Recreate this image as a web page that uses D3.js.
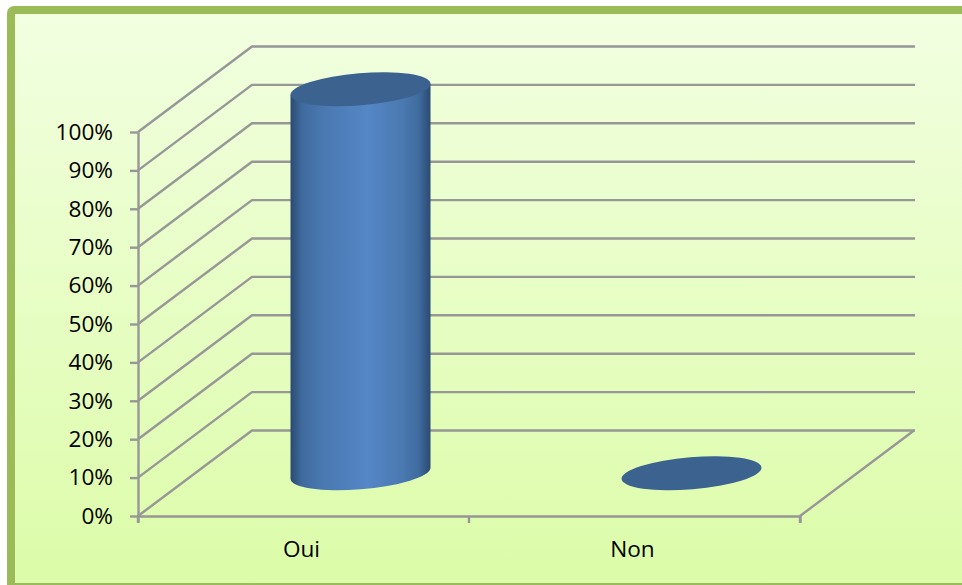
<!DOCTYPE html>
<html>
<head>
<meta charset="utf-8">
<script src="https://cdn.jsdelivr.net/npm/d3@7"></script>
<style>
body { margin: 0; background: #fff; }
text { font-family: "Open Sans", "Noto Sans", sans-serif; fill: #000; }
</style>
</head>
<body>
<div id="chart"></div>
<script>
var categories = ["Oui", "Non"];
var values = [100, 0];
var tickValues = [0, 10, 20, 30, 40, 50, 60, 70, 80, 90, 100];

var width = 962, height = 585;
var left = 138, right = 800, bottom = 516, top_ = 132;
// 3d offset of the back wall
var depthX = 114, depthY = -85.5;
var gridColor = "#979797";
var gridWidth = 2.4;

var svg = d3.select("#chart").append("svg")
    .attr("width", width)
    .attr("height", height)
    .style("display", "block");

var defs = svg.append("defs");

var bg = defs.append("linearGradient").attr("id", "bg")
    .attr("x1", 0).attr("y1", 0).attr("x2", 0).attr("y2", 1);
bg.append("stop").attr("offset", "0%").attr("stop-color", "#f2ffe1");
bg.append("stop").attr("offset", "100%").attr("stop-color", "#dcfca8");

var side = defs.append("linearGradient").attr("id", "side")
    .attr("x1", 0).attr("y1", 0).attr("x2", 1).attr("y2", 0);
side.append("stop").attr("offset", "0%").attr("stop-color", "#2b4a70");
side.append("stop").attr("offset", "8%").attr("stop-color", "#3f6a9e");
side.append("stop").attr("offset", "24%").attr("stop-color", "#4a79b1");
side.append("stop").attr("offset", "55%").attr("stop-color", "#5586c6");
side.append("stop").attr("offset", "80%").attr("stop-color", "#4a79b1");
side.append("stop").attr("offset", "92%").attr("stop-color", "#3f6a9e");
side.append("stop").attr("offset", "100%").attr("stop-color", "#2b4a6f");

// frame, runs off the right side of the picture
svg.append("rect")
    .attr("x", 11).attr("y", 10)
    .attr("width", 980).attr("height", 577)
    .attr("rx", 3)
    .attr("fill", "url(#bg)")
    .attr("stroke", "#9bbb59")
    .attr("stroke-width", 8);

var y = d3.scaleLinear().domain([0, 100]).range([bottom, top_]);
var x = d3.scaleBand().domain(categories).range([left, right]);

// gridlines, floor edge included
svg.append("g").selectAll("path")
    .data(tickValues)
    .enter()
    .append("path")
    .attr("d", function (d) {
        return "M" + left + "," + y(d) +
            "L" + (left + depthX) + "," + (y(d) + depthY) +
            "H" + (right + depthX + 1);
    })
    .attr("fill", "none")
    .attr("stroke", gridColor)
    .attr("stroke-width", gridWidth);

svg.append("line")
    .attr("x1", right).attr("y1", bottom)
    .attr("x2", right + depthX).attr("y2", bottom + depthY)
    .attr("stroke", gridColor)
    .attr("stroke-width", gridWidth);

var yAxis = svg.append("g")
    .attr("transform", "translate(" + left + ",0)")
    .call(d3.axisLeft(y)
        .tickValues(tickValues)
        .tickFormat(function (d) { return d + "%"; })
        .tickSize(8)
        .tickPadding(17)
        .tickSizeOuter(0));

var xAxis = svg.append("g")
    .attr("transform", "translate(0," + bottom + ")")
    .call(d3.axisBottom(x)
        .tickSize(0)
        .tickPadding(25)
        .tickSizeOuter(7));

// band edges get their own ticks
svg.append("g").selectAll("line")
    .data(categories.concat(["end"]))
    .enter()
    .append("line")
    .attr("x1", function (d, i) { return left + i * x.bandwidth(); })
    .attr("x2", function (d, i) { return left + i * x.bandwidth(); })
    .attr("y1", bottom)
    .attr("y2", bottom + 7)
    .attr("stroke", gridColor)
    .attr("stroke-width", gridWidth);

svg.selectAll(".domain, .tick line")
    .attr("stroke", gridColor)
    .attr("stroke-width", gridWidth);
svg.selectAll(".tick text")
    .attr("font-size", 22.6)
    .style("font-family", "'Open Sans'");
xAxis.selectAll(".tick text").attr("dx", -2);

// cylinders
var rx = 70.2, ry = 16, tilt = -4.74;
var tipX = 70, tipY = 5.5;

function cx(i) { return x(categories[i]) + x.bandwidth() / 2 + depthX / 2; }

var bars = svg.append("g").selectAll("g")
    .data(values)
    .enter()
    .append("g");

bars.filter(function (d) { return d > 0; })
    .append("path")
    .attr("d", function (d, i) {
        var yBase = y(0) + depthY / 2;
        var yTop = y(d) + depthY / 2;
        var c = cx(values.indexOf(d));
        return "M" + (c - tipX) + "," + (yTop + tipY) +
            "L" + (c - tipX) + "," + (yBase + tipY) +
            "A" + rx + "," + ry + "," + tilt + ",0,0," + (c + tipX) + "," + (yBase - tipY) +
            "L" + (c + tipX) + "," + (yTop - tipY) +
            "Z";
    })
    .attr("fill", "url(#side)");

bars.append("ellipse")
    .attr("rx", rx)
    .attr("ry", ry)
    .attr("transform", function (d, i) {
        return "translate(" + cx(i) + "," + (y(d) + depthY / 2) + ") rotate(" + tilt + ")";
    })
    .attr("fill", "#3c638f");
</script>
</body>
</html>
